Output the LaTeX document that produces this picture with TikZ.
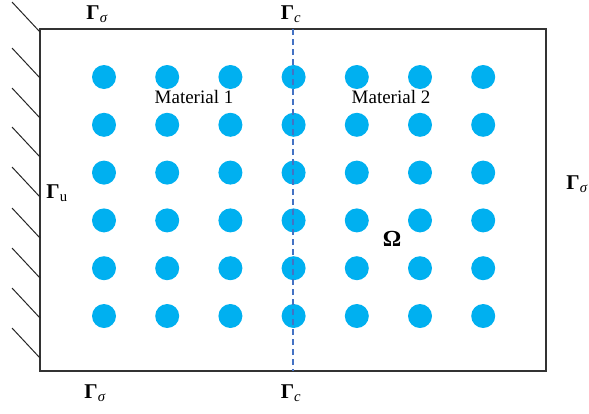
\documentclass[tikz,border=0pt]{standalone}
\usepackage{fontspec}
\setmainfont{Liberation Serif}
\begin{document}
\begin{tikzpicture}[x=1pt,y=-1pt,
  dot/.style={circle,fill=dotblue,draw=none,minimum size=24pt,inner sep=0pt},
  lbl/.style={font=\fontsize{19}{21}\selectfont,inner sep=0pt},
  gam/.style={font=\fontsize{21}{23}\selectfont,inner sep=0pt},
  hatch/.style={line width=1pt,draw=black!85},
  frame/.style={line width=1.4pt,draw=black!80}]
\definecolor{dotblue}{HTML}{00B0F0}
\definecolor{dashblue}{HTML}{4472C4}
\useasboundingbox (0,0) rectangle (589,413);
% dots
\foreach \i [count=\ci] in {104,167.2,230.4,293.6,356.8,420,483.2}{
  \foreach \j [count=\cj] in {77,124.8,172.6,220.4,268.2,316}{
    \node[dot] (d\ci-\cj) at (\i,\j) {};
  }
}
% domain
\draw[frame] (40,29) rectangle (546,371);
% interface
\coordinate (ct) at (293,29);
\coordinate (cb) at (293,371);
\draw[dashblue,line width=1.4pt,dash pattern=on 6pt off 4pt] (ct) -- (cb);
% hatch
\foreach \y in {32,78,118,157,197,238,278,318,358}{
  \draw[hatch] (40,\y) -- (12,\y-30);
}
% labels
\node[gam] (gs1) at (97,14) {\textbf{Γ}\textsubscript{\itshape σ}};
\node[gam] (gc1) at (291,14) {\textbf{Γ}\textsubscript{\itshape c}};
\node[gam] (gs2) at (95,393) {\textbf{Γ}\textsubscript{\itshape σ}};
\node[gam] (gc2) at (291,393) {\textbf{Γ}\textsubscript{\itshape c}};
\node[gam] (gu) at (57,193) {\textbf{Γ}\textsubscript{u}};
\node[gam] (gs3) at (577,184) {\textbf{Γ}\textsubscript{\itshape σ}};
\node[gam,font=\fontsize{23}{25}\selectfont] (om) at (392,239) {\textbf{Ω}};
\node[lbl] (m1) at (194,97) {Material 1};
\node[lbl] (m2) at (391,97) {Material 2};
\end{tikzpicture}
\end{document}
